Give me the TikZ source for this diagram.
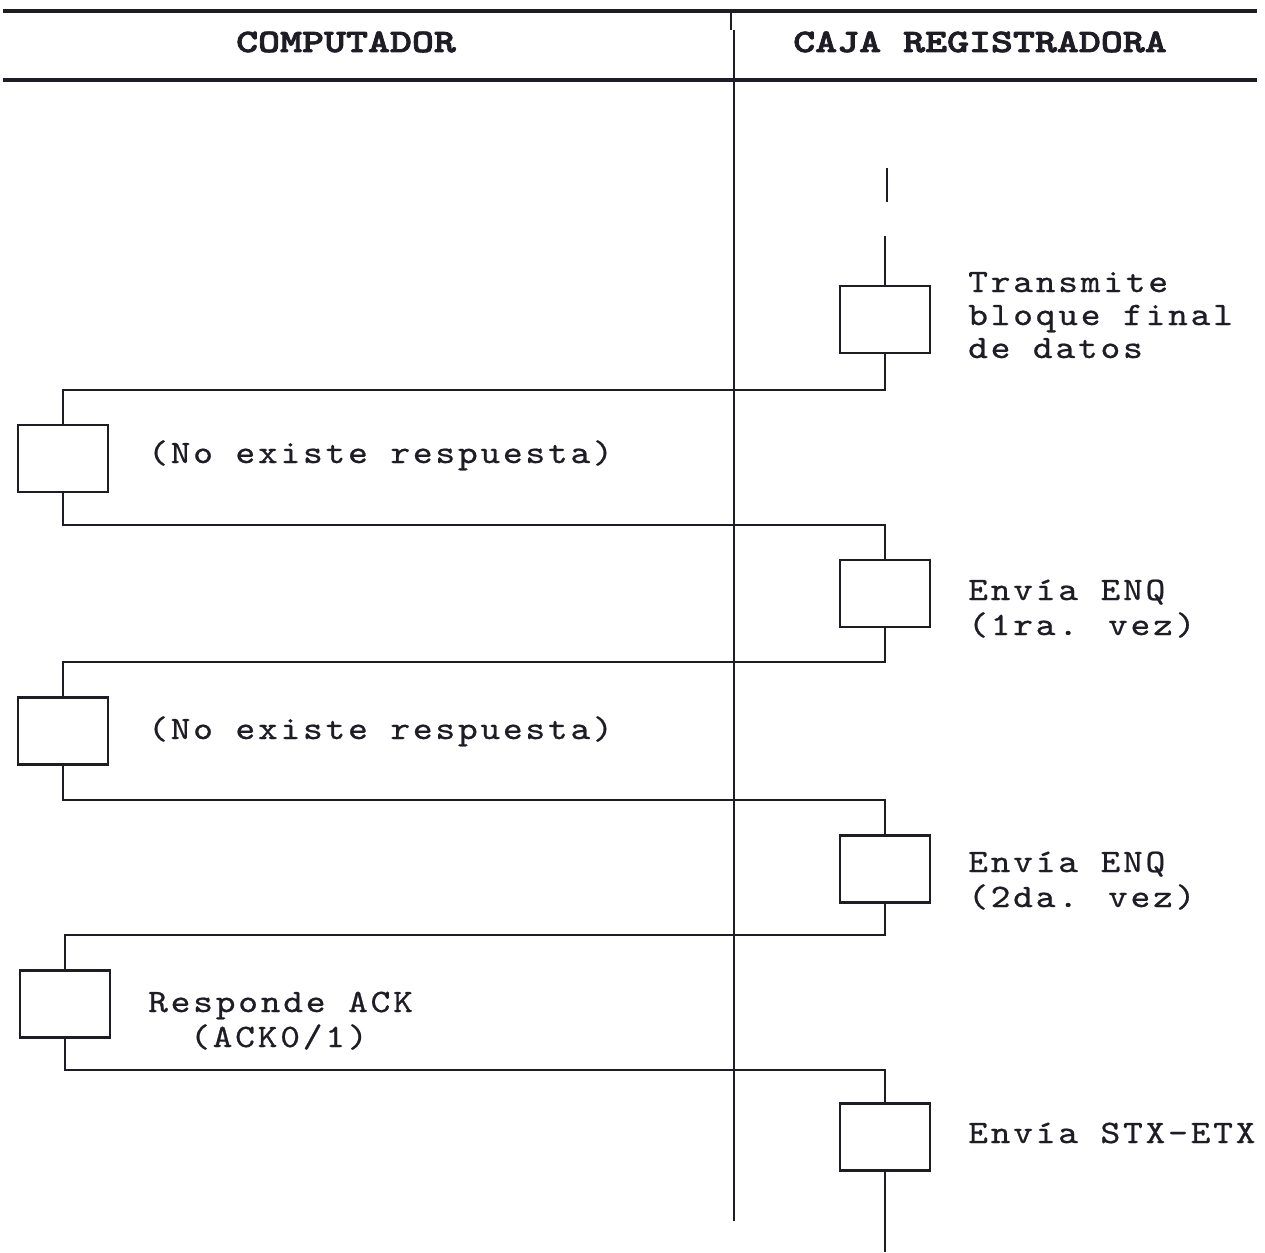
\documentclass[tikz,border=0pt]{standalone}
\usepackage{fontspec}
% typewriter faces for the labels and the column titles
\newfontfamily\bodyfont{lmmono10-regular}[Extension=.otf, FakeStretch=1.15, LetterSpace=8.5, FakeBold=0.7]
\newfontfamily\headfont{lmmonolt10-bold}[Extension=.otf, FakeStretch=1.28, FakeBold=2.5]
\definecolor{ink}{HTML}{1E1C24}
\tikzset{
  proc/.style={draw=ink, line width=2.8pt, minimum width=90pt, minimum height=67pt, inner sep=0pt, fill=white},
  link/.style={draw=ink, line width=2.4pt},
  rule/.style={draw=ink, line width=3.4pt},
  lbl/.style={anchor=base west, inner sep=0pt, text=ink, font=\bodyfont\fontsize{32.7}{33}\selectfont},
  head/.style={anchor=base, inner sep=0pt, text=ink, font=\headfont\fontsize{32.7}{33}\selectfont}
}
\begin{document}
\begin{tikzpicture}[x=1pt,y=-1pt]
\useasboundingbox (0,0) rectangle (1265,1252);

% column titles and header rules
\coordinate (topL) at (3,11);   \coordinate (topR) at (1257,11);
\coordinate (midL) at (3,80);   \coordinate (midR) at (1257,80);
\draw[rule] (topL) -- (topR);
\draw[rule] (midL) -- (midR);
\node[head] (hcomp) at (346,52) {COMPUTADOR};
\node[head] (hcaja) at (980,52) {CAJA REGISTRADORA};

% column divider
\coordinate (tickA) at (731,11); \coordinate (tickB) at (731,30);
\coordinate (divA) at (734,30);  \coordinate (divB) at (734,1221);
\draw[link] (tickA) -- (tickB);
\draw[link] (divA) -- (divB);

% process steps
\node[proc] (r1) at (885,319.5) {};
\node[proc] (l1) at (63,458.5) {};
\node[proc] (r2) at (885,593.5) {};
\node[proc] (l2) at (63,731) {};
\node[proc] (r3) at (885,869) {};
\node[proc] (l3) at (65,1004) {};
\node[proc] (r4) at (885,1137) {};

% hand-over levels
\coordinate (h1) at (0,390);
\coordinate (h2) at (0,525);
\coordinate (h3) at (0,662);
\coordinate (h4) at (0,800);
\coordinate (h5) at (0,935);
\coordinate (h6) at (0,1070);
\coordinate (bot) at (0,1252);

% lifeline coming in from above
\coordinate (dashA) at (887,168); \coordinate (dashB) at (887,202);
\draw[link] (dashA) -- (dashB);
\draw[link] (r1.north) -- ++(0,-49);

% hand-overs between the two sides
\draw[link] (r1.south) -- (r1.south |- h1) -| (l1.north);
\draw[link] (l1.south) -- (l1.south |- h2) -| (r2.north);
\draw[link] (r2.south) -- (r2.south |- h3) -| (l2.north);
\draw[link] (l2.south) -- (l2.south |- h4) -| (r3.north);
\draw[link] (r3.south) -- (r3.south |- h5) -| (l3.north);
\draw[link] (l3.south) -- (l3.south |- h6) -| (r4.north);
\draw[link] (r4.south) -- (r4.south |- bot);

% step descriptions
\node[lbl] (t1a) at (968,292) {Transmite};
\node[lbl] (t1b) at (968,325) {bloque final};
\node[lbl] (t1c) at (968,358) {de datos};
\node[lbl] (t2)  at (148,463) {(No existe respuesta)};
\node[lbl] (t3a) at (968,600) {Envía ENQ};
\node[lbl] (t3b) at (968,635) {(1ra. vez)};
\node[lbl] (t4)  at (148,739) {(No existe respuesta)};
\node[lbl] (t5a) at (968,872) {Envía ENQ};
\node[lbl] (t5b) at (968,907) {(2da. vez)};
\node[lbl] (t6a) at (148,1012) {Responde ACK};
\node[lbl] (t6b) at (190,1047) {(ACK0/1)};
\node[lbl] (t7)  at (968,1143) {Envía STX-ETX};
\end{tikzpicture}
\end{document}
